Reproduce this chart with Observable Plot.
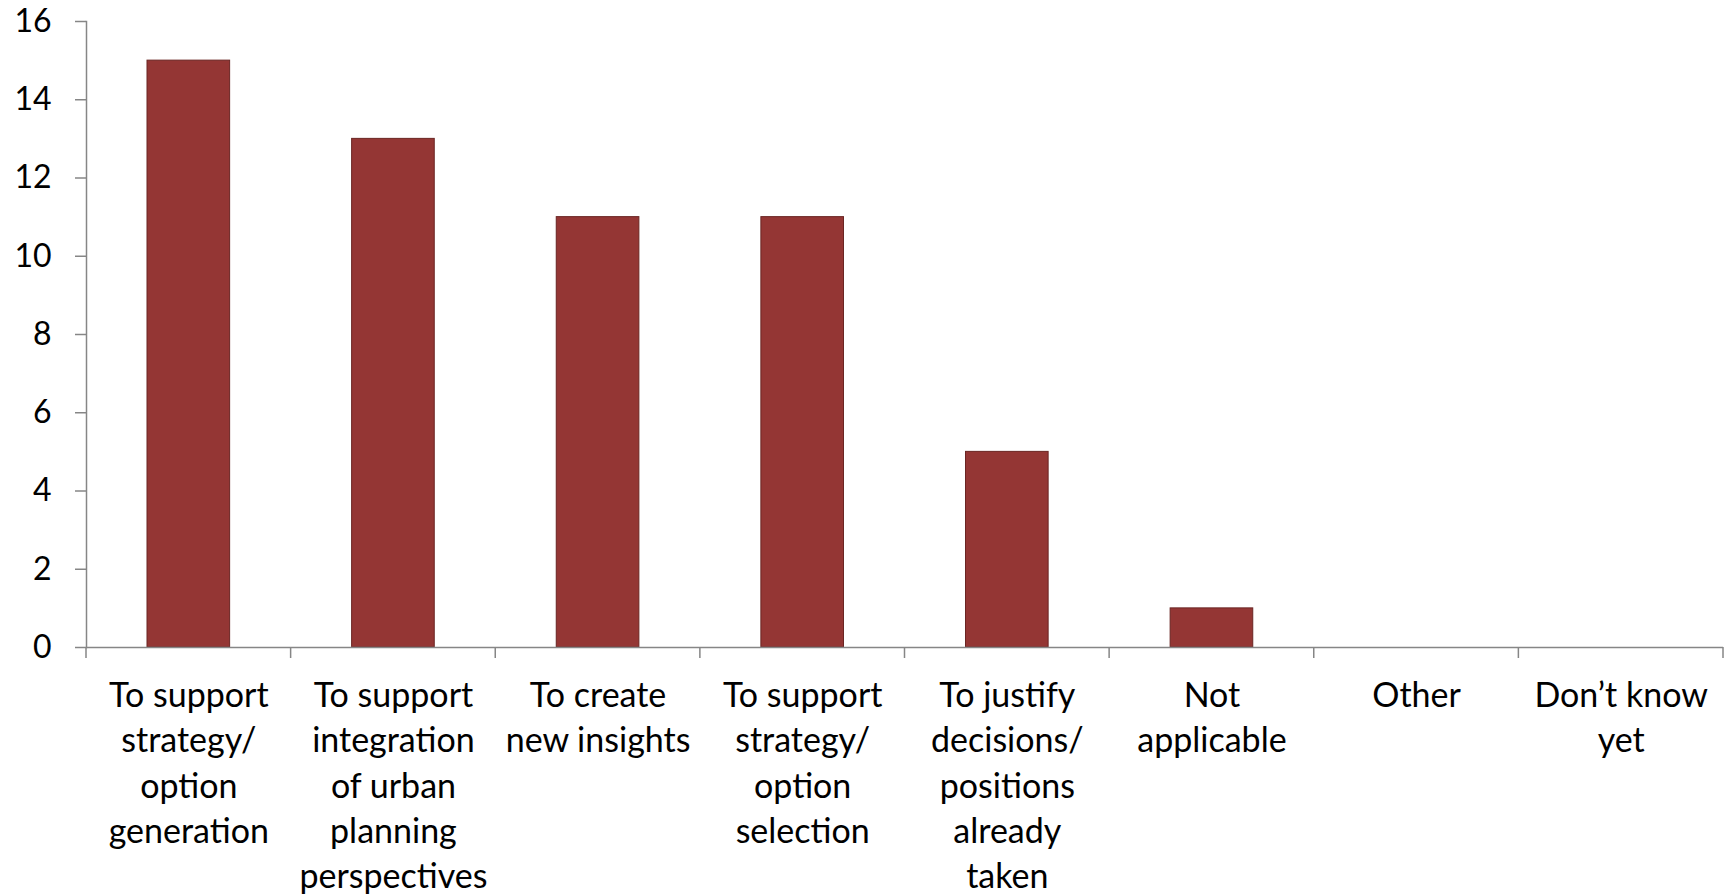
<!DOCTYPE html>
<html>
<head>
<meta charset="utf-8">
<script src="https://cdn.jsdelivr.net/npm/d3@7"></script>
<script src="https://cdn.jsdelivr.net/npm/@observablehq/plot@0.6"></script>
<style>
  html, body { margin: 0; padding: 0; background: #fff; }
  #chart svg { display: block; }
</style>
</head>
<body>
<div id="chart"></div>
<script>
const categories = [
  "To support\nstrategy/\noption\ngeneration",
  "To support\nintegration\nof urban\nplanning\nperspectives",
  "To create\nnew insights",
  "To support\nstrategy/\noption\nselection",
  "To justify\ndecisions/\npositions\nalready\ntaken",
  "Not\napplicable",
  "Other",
  "Don\u2019t know\nyet"
];
const values = [15, 13, 11, 11, 5, 1, 0, 0];
const yTicks = [0, 2, 4, 6, 8, 10, 12, 14, 16];

const data = categories.map((c, i) => ({category: c, value: values[i]}));
const axisColor = "#868686";

function boundaryTicks(index, scales, vals, dimensions) {
  const x = scales.x;
  const bw = typeof x.bandwidth === "function" ? x.bandwidth() : x.bandwidth;
  const y0 = dimensions.height - dimensions.marginBottom;
  const xs = categories.map(c => x(c));
  xs.push(x(categories[categories.length - 1]) + bw);
  const g = d3.create("svg:g").attr("stroke", axisColor).attr("stroke-width", 1.5);
  g.selectAll("line").data(xs).join("line")
    .attr("x1", d => d).attr("x2", d => d)
    .attr("y1", y0).attr("y2", y0 + 11);
  return g.node();
}

const chart = Plot.plot({
  width: 1729,
  height: 896,
  marginTop: 21,
  marginBottom: 249,
  marginLeft: 86,
  marginRight: 6,
  style: {fontFamily: "Lato, 'Open Sans', sans-serif", background: "#fff", color: "#000"},
  x: {domain: categories, padding: 0, round: false, axis: null},
  y: {domain: [0, 16], axis: null},
  marks: [
    Plot.barY(data, {
      x: "category", y: "value",
      fill: "#943634", stroke: "#6a2523", strokeWidth: 1,
      insetLeft: 61, insetRight: 61
    }),
    Plot.axisY(yTicks, {
      label: null,
      tickSize: 11, tickPadding: 24, stroke: axisColor, strokeWidth: 1.5,
      fill: "#000", fontSize: 32, tickFormat: d => String(d)
    }),
    Plot.frame({anchor: "left", stroke: axisColor, strokeWidth: 1.5}),
    Plot.ruleY([0], {stroke: axisColor, strokeWidth: 1.5}),
    boundaryTicks,
    Plot.text(categories, {
      x: d => d, frameAnchor: "bottom", dy: 27,
      lineAnchor: "top", lineHeight: 1.335, fontSize: 34,
      fill: "#000", text: d => d
    })
  ]
});
document.getElementById("chart").append(chart);
</script>
</body>
</html>
